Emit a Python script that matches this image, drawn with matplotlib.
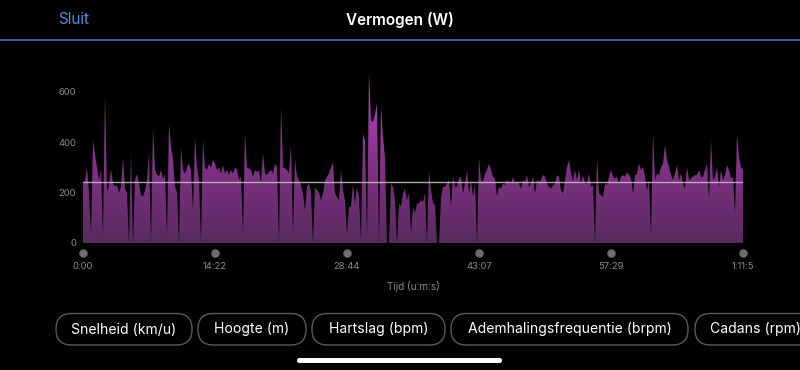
import matplotlib
matplotlib.use("Agg")
import matplotlib.pyplot as plt
import numpy as np
from matplotlib.colors import LinearSegmentedColormap
from matplotlib.patches import FancyBboxPatch, PathPatch

plt.rcParams['font.family'] = ['Inter', 'DejaVu Sans']

# vermogen (W), gelijk verdeeld over de rit
watts = [
    230, 250, 300, 200, 40, 410, 350, 300, 250, 290,
    30, 590, 205, 225, 295, 235, 225, 230, 200, 225,
    340, 215, 200, 0, 360, 0, 250, 275, 235, 190,
    185, 210, 250, 355, 0, 460, 290, 270, 265, 290,
    255, 275, 30, 470, 380, 330, 225, 200, 0, 380,
    290, 275, 300, 315, 290, 130, 420, 300, 250, 0,
    410, 300, 290, 315, 300, 330, 315, 290, 300, 276,
    309, 276, 290, 270, 290, 276, 300, 290, 250, 263,
    40, 440, 300, 296, 290, 263, 290, 282, 290, 236,
    355, 276, 270, 282, 290, 276, 315, 300, 0, 540,
    300, 296, 290, 276, 388, 40, 330, 263, 250, 230,
    197, 130, 223, 236, 200, 0, 223, 210, 203, 170,
    197, 250, 263, 276, 300, 320, 197, 183, 170, 290,
    210, 170, 40, 144, 144, 236, 157, 223, 183, 10,
    434, 408, 20, 680, 487, 480, 513, 553, 0, 546,
    420, 342, 0, 0, 236, 223, 170, 0, 157, 144,
    197, 216, 170, 197, 40, 144, 120, 157, 157, 170,
    164, 197, 0, 290, 210, 160, 150, 0, 0, 180,
    223, 223, 236, 250, 144, 263, 223, 223, 256, 263,
    197, 236, 290, 197, 250, 183, 236, 0, 340, 250,
    243, 276, 290, 315, 290, 263, 256, 183, 223, 216,
    236, 230, 250, 243, 236, 263, 236, 243, 236, 216,
    250, 243, 270, 223, 236, 263, 197, 250, 243, 250,
    270, 263, 236, 223, 216, 230, 236, 270, 263, 210,
    197, 250, 302, 330, 276, 243, 290, 250, 290, 236,
    270, 236, 236, 276, 223, 230, 0, 340, 197, 190,
    183, 236, 230, 263, 290, 263, 256, 263, 236, 263,
    270, 263, 282, 270, 256, 197, 270, 276, 315, 290,
    302, 263, 210, 250, 30, 440, 250, 276, 270, 302,
    315, 388, 330, 302, 270, 250, 276, 309, 250, 276,
    236, 216, 302, 250, 256, 263, 270, 270, 290, 263,
    263, 290, 315, 170, 408, 250, 263, 302, 223, 290,
    250, 270, 309, 290, 256, 263, 117, 434, 342, 302,
    290,
]
total_s = 4311          # 1:11:51
avg_w = 242             # gemiddelde lijn
y_ticks = [0, 200, 400, 600]
x_ticks_s = [0, 862, 1724, 2587, 3449, 4311]
x_labels = ["0:00", "14:22", "28:44", "43:07", "57:29", "1:11:5"]
buttons = ["Snelheid (km/u)", "Hoogte (m)", "Hartslag (bpm)",
           "Ademhalingsfrequentie (brpm)", "Cadans (rpm)"]

t = np.linspace(0, total_s, len(watts))
ymax = 727

fig = plt.figure(figsize=(8, 3.7), dpi=100, facecolor="black")

# UI laag in pixels
ui = fig.add_axes([0, 0, 1, 1])
ui.set_xlim(0, 800)
ui.set_ylim(370, 0)
ui.axis("off")
ui.text(58, 20, "Sluit", color="#4f8edb", fontsize=11, ha="left", va="center")
ui.text(400, 20, "Vermogen (W)", color="white", fontsize=11, fontweight="semibold",
        ha="center", va="center")
ui.plot([0, 800], [39.5, 39.5], color="#46699c", lw=1.2)
ui.text(413, 287, "Tijd (u:m:s)", color="#8a8a8a", fontsize=7.2, ha="center", va="center")

btn_x = [56, 198, 312, 451, 695]
btn_w = [136, 108, 133, 237, 120]
for label, bx, bw in zip(buttons, btn_x, btn_w):
    ui.add_patch(FancyBboxPatch((bx, 313.5), bw + (40 if bx > 690 else 0), 31.5,
                                boxstyle="round,pad=0,rounding_size=15.5",
                                facecolor="black", edgecolor="#5a5a5a", lw=1))
    ui.text(bx + bw / 2, 329.5, label, color="white", fontsize=10.1,
            ha="center", va="center")
ui.add_patch(FancyBboxPatch((297, 358), 205, 5, boxstyle="round,pad=0,rounding_size=2.5",
                            facecolor="white", edgecolor="none"))

# grafiek
ax = fig.add_axes([83 / 800, (370 - 243) / 370, 660 / 800, 183 / 370])
ax.set_facecolor("black")

poly = ax.fill_between(t, watts, 0, color="none")
path = poly.get_paths()[0]
clip = PathPatch(path, transform=ax.transData, facecolor="none", edgecolor="none")
ax.add_patch(clip)
cmap = LinearSegmentedColormap.from_list("paars", ["#582a5e", "#8a338f", "#c24ac8"])
grad = np.linspace(0, 1, 256).reshape(-1, 1)
img = ax.imshow(grad, extent=[0, total_s, 0, ymax], aspect="auto", origin="lower",
                cmap=cmap, zorder=1)
img.set_clip_path(clip)

ax.axhline(avg_w, color="#bcbcbc", lw=1.0, alpha=0.9, zorder=3)

ax.set_xlim(0, total_s)
ax.set_ylim(0, ymax)
for s in ax.spines.values():
    s.set_visible(False)
ax.set_yticks(y_ticks)
ax.set_yticklabels([str(v) for v in y_ticks])
ax.set_xticks(x_ticks_s)
ax.set_xticklabels(x_labels)
ax.tick_params(axis="y", length=0, pad=5, labelsize=6.8, labelcolor="#8a8a8a")
ax.tick_params(axis="x", length=0, pad=14, labelsize=6.8, labelcolor="#8a8a8a")
ax.scatter(x_ticks_s, [-0.055] * len(x_ticks_s), transform=ax.get_xaxis_transform(),
           s=26, color="#6c6c6c", clip_on=False, zorder=4)

fig.savefig("out.png", dpi=100, facecolor="black")
